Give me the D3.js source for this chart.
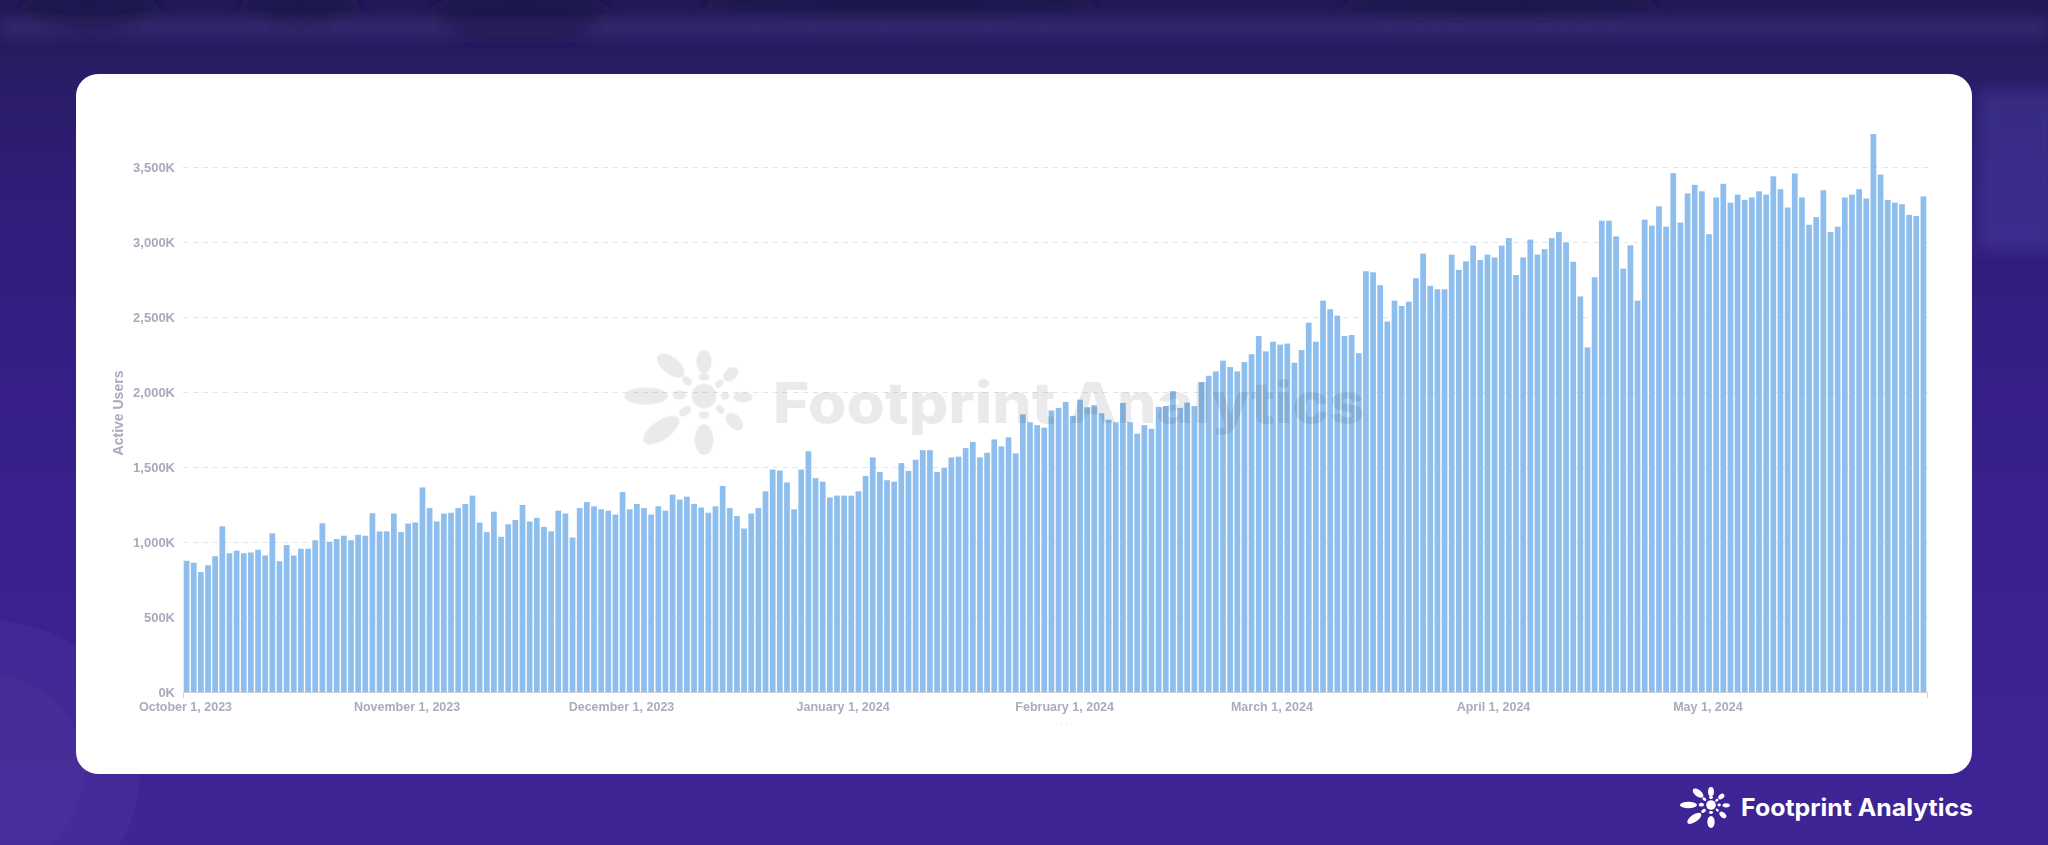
<!DOCTYPE html>
<html><head><meta charset="utf-8">
<script src="https://cdn.jsdelivr.net/npm/d3@7"></script>
<style>html,body{margin:0;padding:0;background:#3a2190;overflow:hidden}</style>
</head><body>
<svg id="chart" width="2048" height="845"></svg>
<script>
// ---------------- DATA ----------------
const startDay = "2023-10-01";
const endDay = "2024-06-01";
// daily active users, in thousands (Oct 1, 2023 .. May 31, 2024)
const activeUsersK = [
  875, 862, 800, 845, 905, 1105, 925, 942, 925, 930, 948, 910, 1058, 872, 980, 910, 955, 955, 1012, 1125, 1002, 1020, 1042, 1012, 1048, 1042, 1192, 1070,
  1071, 1190, 1066, 1123, 1130, 1364, 1226, 1137, 1190, 1195, 1226, 1254, 1309, 1130, 1066, 1202, 1035, 1118, 1147, 1247, 1137, 1161, 1101, 1071, 1209, 1190, 1030, 1226,
  1266, 1238, 1218, 1209, 1183, 1333, 1218, 1254, 1226, 1183, 1238, 1209, 1316, 1283, 1302, 1254, 1230, 1195, 1238, 1374, 1226, 1173, 1090, 1190, 1226, 1338, 1483, 1476,
  1397, 1218, 1483, 1605, 1426, 1402, 1297, 1309, 1309, 1309, 1338, 1440, 1564, 1467, 1412, 1402, 1526, 1474, 1548, 1612, 1612, 1467, 1493, 1564, 1569, 1626, 1667, 1564, 1595,
  1684, 1638, 1698, 1591, 1851, 1798, 1779, 1762, 1877, 1894, 1934, 1841, 1949, 1898, 1913, 1858, 1815, 1798, 1927, 1798, 1722, 1779, 1755, 1901, 1906, 2006, 1894,
  1929, 1906, 2066, 2108, 2137, 2209, 2166, 2137, 2199, 2252, 2373, 2271, 2335, 2316, 2323, 2195, 2280, 2462, 2335, 2609, 2552, 2509, 2373, 2380, 2259, 2805, 2798, 2712,
  2470, 2609, 2573, 2602, 2759, 2923, 2708, 2685, 2685, 2916, 2814, 2871, 2976, 2881, 2916, 2897, 2976, 3026, 2780, 2897, 3016, 2916, 2952, 3026, 3066, 2997, 2868, 2637,
  2297, 2765, 3142, 3142, 3037, 2823, 2978, 2609, 3149, 3109, 3238, 3102, 3459, 3130, 3324, 3381, 3338, 3052, 3297, 3388, 3262, 3316, 3281, 3297, 3338, 3316, 3438, 3352,
  3230, 3457, 3297, 3115, 3166, 3345, 3066, 3102, 3297, 3316, 3352, 3290, 3720, 3450, 3281, 3262, 3252, 3181, 3174, 3304
];
const yTicksK = [0, 500, 1000, 1500, 2000, 2500, 3000, 3500];
const xTickDates = ["2023-10-01","2023-11-01","2023-12-01","2024-01-01","2024-02-01","2024-03-01","2024-04-01","2024-05-01"];
const xTickLabels = ["October 1, 2023","November 1, 2023","December 1, 2023","January 1, 2024","February 1, 2024","March 1, 2024","April 1, 2024","May 1, 2024"];
const yAxisTitle = "Active Users";
const brandName = "Footprint Analytics";

// ---------------- DRAW ----------------
const W = 2048, H = 845;
const svg = d3.select("#chart");
const defs = svg.append("defs");
const parse = d3.utcParse("%Y-%m-%d");

const bg = defs.append("linearGradient").attr("id","bg").attr("x1",0).attr("y1",0).attr("x2",0).attr("y2",1);
[[0,"#221955"],[0.09,"#2a1c66"],[0.22,"#301c78"],[0.6,"#39208d"],[1,"#3f2496"]]
  .forEach(([o,c]) => bg.append("stop").attr("offset",o).attr("stop-color",c));
defs.append("filter").attr("id","blur").attr("x","-50%").attr("y","-50%").attr("width","200%").attr("height","200%")
  .append("feGaussianBlur").attr("stdDeviation",8);

svg.append("rect").attr("width",W).attr("height",H).attr("fill","url(#bg)");
// top band decorations (blurred background photo impression)
const deco = svg.append("g").attr("filter","url(#blur)");
deco.append("rect").attr("x",0).attr("y",22).attr("width",W).attr("height",12).attr("fill","#51449a").attr("opacity",0.5);
[[90,10,70,22],[300,8,60,20],[520,14,90,26],[900,0,200,20],[1500,5,160,18]].forEach(([cx,cy,rx,ry]) =>
  deco.append("ellipse").attr("cx",cx).attr("cy",cy).attr("rx",rx).attr("ry",ry).attr("fill","#1a1442").attr("opacity",0.5));
deco.append("rect").attr("x",1978).attr("y",90).attr("width",80).attr("height",160).attr("fill","#4a47a8").attr("opacity",0.4);
// bottom-left faint circles
svg.append("circle").attr("cx",-10).attr("cy",770).attr("r",150).attr("fill","#ffffff").attr("opacity",0.03);
svg.append("circle").attr("cx",-10).attr("cy",770).attr("r",95).attr("fill","#ffffff").attr("opacity",0.02);

// white card
svg.append("rect").attr("x",76).attr("y",74).attr("width",1896).attr("height",700).attr("rx",22).attr("fill","#ffffff");

const x0 = 183, x1 = 1927, yBase = 692, yTop = 167;
const x = d3.scaleUtc().domain([parse(startDay), parse(endDay)]).range([x0, x1]);
const y = d3.scaleLinear().domain([0, 3500]).range([yBase, yTop]);
const start = parse(startDay);
const data = activeUsersK.map((v, i) => ({date: d3.utcDay.offset(start, i), v}));
const step = x(d3.utcDay.offset(start, 1)) - x(start);

// gridlines
const grid = svg.append("g").attr("transform", `translate(${x0},0)`)
  .call(d3.axisLeft(y).tickValues(yTicksK.filter(d => d > 0)).tickSize(-(x1 + 2 - x0)).tickFormat(""));
grid.select(".domain").remove();
grid.selectAll("line").attr("stroke","#e4e5eb").attr("stroke-dasharray","5,5").attr("stroke-width",1);

// bars
svg.append("g").selectAll("rect").data(data).join("rect")
  .attr("x", d => x(d.date) + step * 0.1)
  .attr("width", step * 0.8)
  .attr("y", d => y(d.v))
  .attr("height", d => yBase - y(d.v))
  .attr("fill", "#8dbeed");

// y axis labels
const yAx = svg.append("g").attr("transform", `translate(${x0},0)`)
  .call(d3.axisLeft(y).tickValues(yTicksK).tickSize(0).tickPadding(8).tickFormat(d => d3.format(",")(d) + "K"));
yAx.select(".domain").remove();
yAx.selectAll("text").attr("font-family","'Liberation Sans', Arial, sans-serif").attr("font-size",13)
  .attr("font-weight","bold").attr("fill","#a7aabb");

svg.append("text").attr("transform","translate(119,413) rotate(-90)").attr("text-anchor","middle")
  .attr("dominant-baseline","middle")
  .attr("font-family","'Liberation Sans', Arial, sans-serif").attr("font-size",14).attr("font-weight","bold")
  .attr("fill","#a7aabb").text(yAxisTitle);

// x axis
const xAx = svg.append("g").attr("transform", `translate(0,${yBase})`)
  .call(d3.axisBottom(x).tickValues(xTickDates.map(parse)).tickSizeInner(0).tickSizeOuter(6).tickPadding(10)
    .tickFormat((d, i) => xTickLabels[i]));
xAx.select(".domain").attr("stroke","#cfd1da").attr("stroke-width",1);
xAx.selectAll("text").attr("font-family","'Liberation Sans', Arial, sans-serif").attr("font-size",12.5)
  .attr("font-weight","bold").attr("fill","#a9acbd").attr("dx", 2);
svg.append("text").attr("x",1064).attr("y",727).attr("text-anchor","middle").attr("font-size",9)
  .attr("fill","#b3b5c3").text("· ·");

// flower logo shape
const petals = [
  {cx:-61, cy:0, rx:23, ry:9, r:0},
  {cx:-35, cy:-32, rx:17, ry:9, r:38},
  {cx:0, cy:-36, rx:8, ry:12.5, r:0},
  {cx:28, cy:-23, rx:9, ry:6.5, r:-40},
  {cx:41, cy:1, rx:10, ry:5.5, r:0},
  {cx:32, cy:27, rx:11, ry:7, r:45},
  {cx:0, cy:46, rx:10, ry:16, r:0},
  {cx:-45, cy:36, rx:22, ry:10, r:-35},
  {cx:-18, cy:-16, rx:6, ry:4, r:40},
  {cx:0, cy:-20, rx:5.5, ry:4, r:0},
  {cx:16, cy:-13, rx:5, ry:3.5, r:-45},
  {cx:22, cy:0, rx:4.5, ry:4, r:0},
  {cx:17, cy:14, rx:5, ry:3.5, r:45},
  {cx:0, cy:20, rx:5.5, ry:4, r:0},
  {cx:-20, cy:16, rx:7, ry:4.5, r:-35},
  {cx:-26, cy:-1, rx:7, ry:5, r:0}
];
function flower(g, fill) {
  g.selectAll("ellipse").data(petals).join("ellipse")
    .attr("cx", d => d.cx).attr("cy", d => d.cy).attr("rx", d => d.rx).attr("ry", d => d.ry)
    .attr("transform", d => `rotate(${d.r},${d.cx},${d.cy})`).attr("fill", fill);
  g.append("circle").attr("r", 13).attr("fill", fill);
}

// watermark (over the bars, translucent)
const wm = svg.append("g").attr("opacity", 0.085);
flower(wm.append("g").attr("transform","translate(704,396) scale(0.95)"), "#000");
wm.append("text").attr("x",773).attr("y",423).attr("textLength",592).attr("lengthAdjust","spacingAndGlyphs")
  .attr("font-family","Inter, 'Noto Sans', sans-serif").attr("font-weight",800).attr("font-size",56)
  .attr("fill","#000").text(brandName);

// bottom-right brand
flower(svg.append("g").attr("transform","translate(1711,805) scale(0.37)"), "#ffffff");
svg.append("text").attr("x",1741).attr("y",816).attr("textLength",232).attr("lengthAdjust","spacingAndGlyphs")
  .attr("font-family","Inter, 'Noto Sans', sans-serif").attr("font-weight",700).attr("font-size",24)
  .attr("fill","#ffffff").text(brandName);
</script>
</body></html>
